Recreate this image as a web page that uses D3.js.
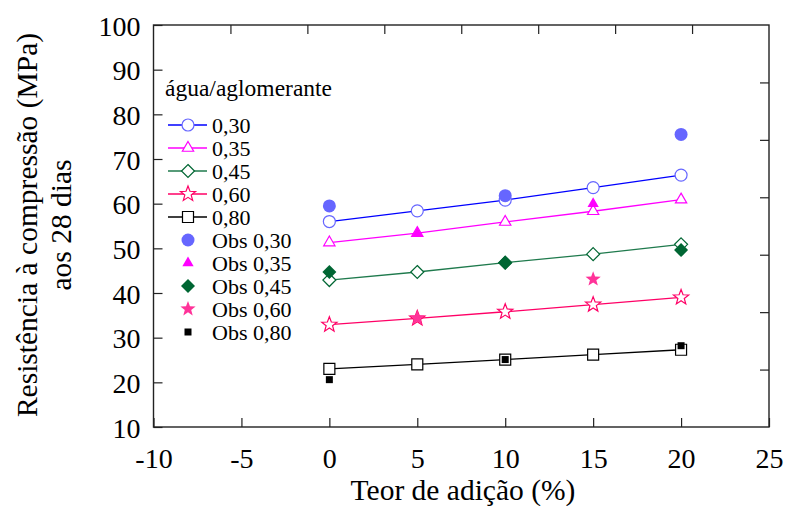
<!DOCTYPE html>
<html>
<head>
<meta charset="utf-8">
<script src="https://cdn.jsdelivr.net/npm/d3@7"></script>
<style>
  html, body { margin: 0; padding: 0; background: #fff; }
  svg { display: block; font-family: "Liberation Serif", "Times New Roman", serif; }
</style>
</head>
<body>
<svg id="chart" width="789" height="506"></svg>
<script>
// Additive content (%) on the x axis
const teor = [0, 5, 10, 15, 20];

// Fitted compressive strength (MPa) per water/binder ratio
const fit030 = [56.0, 58.4, 60.8, 63.6, 66.4];
const fit035 = [51.3, 53.4, 55.9, 58.3, 60.9];
const fit045 = [42.9, 44.7, 46.8, 48.7, 50.9];
const fit060 = [32.9, 34.3, 35.8, 37.4, 39.0];
const fit080 = [23.0, 24.0, 25.1, 26.2, 27.3];

// Observed values
const obsX030 = [0, 10, 20];
const obs030 = [59.5, 61.8, 75.5];
const obsX035 = [5, 15];
const obs035 = [53.3, 60.0];
const obsX045 = [0, 10, 20];
const obs045 = [44.7, 46.8, 49.6];
const obsX060 = [5, 15];
const obs060 = [34.4, 43.1];
const obsX080 = [0, 10, 20];
const obs080 = [20.6, 25.1, 28.2];

// Axis ticks
const xTicks = [-10, -5, 0, 5, 10, 15, 20, 25];
const yTicks = [10, 20, 30, 40, 50, 60, 70, 80, 90, 100];

const fitSeries = [
  { label: "0,30", values: fit030, shape: "circle",  line: "#0000ff", stroke: "#6666ff" },
  { label: "0,35", values: fit035, shape: "triangle", line: "#ff00ff", stroke: "#ff00ff" },
  { label: "0,45", values: fit045, shape: "diamond", line: "#1f7a4d", stroke: "#006633" },
  { label: "0,60", values: fit060, shape: "star",    line: "#ff0066", stroke: "#ff0066" },
  { label: "0,80", values: fit080, shape: "square",  line: "#000000", stroke: "#000000" }
];
const obsSeries = [
  { label: "Obs 0,30", xs: obsX030, values: obs030, shape: "circle",   fill: "#6666ff", r: 6.5 },
  { label: "Obs 0,35", xs: obsX035, values: obs035, shape: "triangle", fill: "#ff00ff", r: 6.5 },
  { label: "Obs 0,45", xs: obsX045, values: obs045, shape: "diamond",  fill: "#006633", r: 7 },
  { label: "Obs 0,60", xs: obsX060, values: obs060, shape: "star",     fill: "#ff3399", r: 8 },
  { label: "Obs 0,80", xs: obsX080, values: obs080, shape: "square",   fill: "#000000", r: 3.5 }
];

const openR = { circle: 6, triangle: 6.5, diamond: 6.5, star: 8, square: 5.5 };

function markerPath(shape, r) {
  switch (shape) {
    case "circle":
      return `M${r},0A${r},${r} 0 1,1 ${-r},0A${r},${r} 0 1,1 ${r},0Z`;
    case "triangle": {
      const h = r * 1.5, w = r * 0.87;
      return `M0,${-h * 2 / 3}L${w},${h / 3}L${-w},${h / 3}Z`;
    }
    case "diamond":
      return `M0,${-r}L${r},0L0,${r}L${-r},0Z`;
    case "square":
      return `M${-r},${-r}H${r}V${r}H${-r}Z`;
    case "star": {
      const inner = r * 0.42;
      let d = "";
      for (let i = 0; i < 10; i++) {
        const a = -Math.PI / 2 + i * Math.PI / 5;
        const rr = i % 2 === 0 ? r : inner;
        d += (i === 0 ? "M" : "L") + (rr * Math.cos(a)).toFixed(2) + "," + (rr * Math.sin(a)).toFixed(2);
      }
      return d + "Z";
    }
  }
}

const svg = d3.select("#chart");
const plotL = 153.5, plotR = 769, plotT = 25, plotB = 427;

const x = d3.scaleLinear().domain([-10, 25]).range([plotL, plotR]);
const y = d3.scaleLinear().domain([10, 100]).range([plotB, plotT]);

// Secondary frame scales (tick divisions on top and right edges)
const xTop = d3.scaleLinear().domain([0, 8]).range([plotL, plotR]);
const yRight = d3.scaleLinear().domain([0, 7]).range([plotB, plotT]);

const tickLen = 9;
const plainNum = d => String(d);

// Bottom axis
const gx = svg.append("g")
  .attr("transform", `translate(0,${plotB})`)
  .call(d3.axisBottom(x).tickValues(xTicks).tickSize(-tickLen).tickPadding(21).tickFormat(plainNum));
// Left axis
const gy = svg.append("g")
  .attr("transform", `translate(${plotL},0)`)
  .call(d3.axisLeft(y).tickValues(yTicks).tickSize(-tickLen).tickPadding(13).tickFormat(plainNum));
// Top and right tick marks without labels
const gt = svg.append("g")
  .attr("transform", `translate(0,${plotT})`)
  .call(d3.axisTop(xTop).tickValues(d3.range(1, 8)).tickSize(-tickLen).tickFormat(""));
const gr = svg.append("g")
  .attr("transform", `translate(${plotR},0)`)
  .call(d3.axisRight(yRight).tickValues(d3.range(1, 7)).tickSize(-tickLen).tickFormat(""));

[gx, gy, gt, gr].forEach(g => {
  g.select(".domain").remove();
  g.selectAll(".tick line").attr("stroke", "#222").attr("stroke-width", 1.2);
  g.selectAll(".tick text")
    .attr("fill", "#000")
    .style("font-family", '"Liberation Serif", serif')
    .style("font-size", "28px");
});
gy.selectAll(".tick text").attr("dy", "0.36em");

// Plot frame
svg.append("rect")
  .attr("x", plotL).attr("y", plotT)
  .attr("width", plotR - plotL).attr("height", plotB - plotT)
  .attr("fill", "none").attr("stroke", "#222").attr("stroke-width", 1.4);

// Axis titles
svg.append("text")
  .attr("x", 463).attr("y", 500)
  .attr("text-anchor", "middle")
  .style("font-size", "29.5px")
  .text("Teor de adição (%)");

const yt = svg.append("text")
  .attr("transform", "translate(0,225) rotate(-90)")
  .attr("text-anchor", "middle")
  .style("font-size", "29.5px");
yt.append("tspan").attr("x", 0).attr("y", 37).text("Resistência à compressão (MPa)");
yt.append("tspan").attr("x", 0).attr("y", 71).text("aos 28 dias");

// Fitted lines
const line = d3.line().x((d, i) => x(teor[i])).y(d => y(d));
fitSeries.forEach(s => {
  svg.append("path")
    .datum(s.values)
    .attr("d", line)
    .attr("fill", "none")
    .attr("stroke", s.line)
    .attr("stroke-width", 1.3);
});

// Open markers on fitted values
fitSeries.forEach(s => {
  svg.append("g").selectAll("path")
    .data(s.values)
    .join("path")
    .attr("transform", (d, i) => `translate(${x(teor[i])},${y(d)})`)
    .attr("d", markerPath(s.shape, openR[s.shape]))
    .attr("fill", "#fff")
    .attr("stroke", s.stroke)
    .attr("stroke-width", 1.2);
});

// Observed values (filled)
obsSeries.forEach(s => {
  svg.append("g").selectAll("path")
    .data(s.values)
    .join("path")
    .attr("transform", (d, i) => `translate(${x(s.xs[i])},${y(d)})`)
    .attr("d", markerPath(s.shape, s.r))
    .attr("fill", s.fill);
});

// Legend
const lg = svg.append("g");
lg.append("text")
  .attr("x", 165).attr("y", 96)
  .style("font-size", "23.5px")
  .text("água/aglomerante");

const rowY = i => 125 + i * 23;
fitSeries.forEach((s, i) => {
  const cy = rowY(i);
  lg.append("line")
    .attr("x1", 168).attr("x2", 207).attr("y1", cy).attr("y2", cy)
    .attr("stroke", s.line).attr("stroke-width", 1.3);
  lg.append("path")
    .attr("transform", `translate(188,${cy})`)
    .attr("d", markerPath(s.shape, openR[s.shape]))
    .attr("fill", "#fff").attr("stroke", s.stroke).attr("stroke-width", 1.2);
  lg.append("text")
    .attr("x", 212).attr("y", cy + 8)
    .style("font-size", "22px")
    .text(s.label);
});
obsSeries.forEach((s, j) => {
  const cy = rowY(j + 5);
  lg.append("path")
    .attr("transform", `translate(188,${cy})`)
    .attr("d", markerPath(s.shape, s.r))
    .attr("fill", s.fill);
  lg.append("text")
    .attr("x", 212).attr("y", cy + 8)
    .style("font-size", "22px")
    .text(s.label);
});
</script>
</body>
</html>
